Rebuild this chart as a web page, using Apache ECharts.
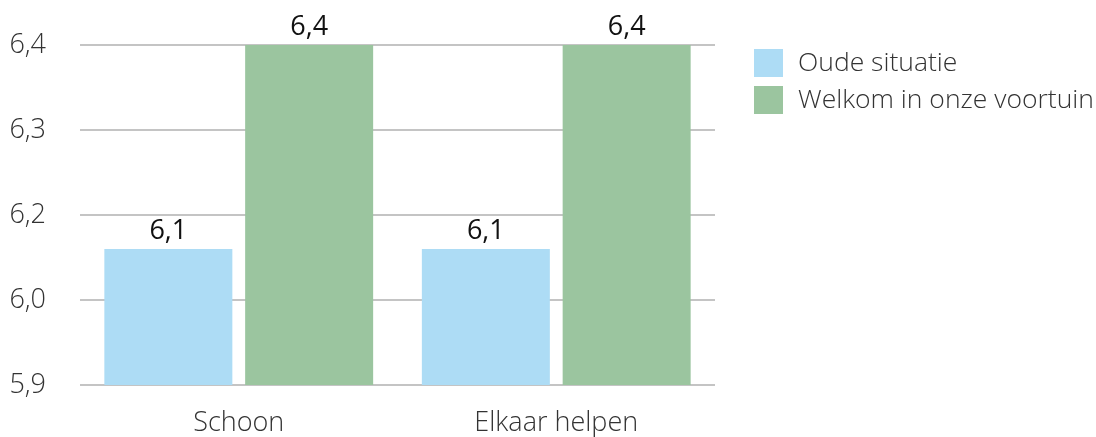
<!DOCTYPE html>
<html>
<head>
<meta charset="utf-8">
<script src="https://cdn.jsdelivr.net/npm/echarts@6/dist/echarts.min.js"></script>
<style>html,body{margin:0;padding:0;background:#fff}#c{width:1096px;height:437px}</style>
</head>
<body>
<div id="c"></div>
<script>
const categories = ["Schoon", "Elkaar helpen"];
const seriesNames = ["Oude situatie", "Welkom in onze voortuin"];
const oudeSituatie = [6.1, 6.1];
const welkom = [6.4, 6.4];
const yTickLabels = ["5,9", "6,0", "6,2", "6,3", "6,4"];
const colors = ["#addcf5", "#9bc59f"];

const chart = echarts.init(document.getElementById('c'));
const labelStyle = {
  show: true, position: 'top', distance: 4,
  fontFamily: 'Open Sans', fontSize: 27, color: '#111',
  formatter: p => p.value.toFixed(1).replace('.', ',')
};
chart.setOption({
  animation: false,
  color: colors,
  textStyle: { fontFamily: 'Open Sans' },
  legend: {
    orient: 'vertical', left: 749, top: 44,
    itemWidth: 29, itemHeight: 28, itemGap: 9,
    icon: 'rect',
    textStyle: { fontFamily: 'Open Sans', fontWeight: 300, fontSize: 26.5, lineHeight: 28, color: '#333', padding: [0, 0, 0, 10] },
    data: seriesNames
  },
  grid: { left: 80, right: 381, top: 45, bottom: 52, containLabel: false },
  xAxis: {
    type: 'category', data: categories,
    axisLine: { show: false },
    axisTick: { show: false },
    axisLabel: { fontFamily: 'Open Sans', fontWeight: 300, fontSize: 27, color: '#333', margin: 25 }
  },
  yAxis: {
    type: 'value', min: 5.9, max: 6.4, interval: 0.125,
    axisLine: { show: false }, axisTick: { show: false },
    splitLine: { lineStyle: { color: '#c4c4c4', width: 2 } },
    axisLabel: {
      fontFamily: 'Open Sans', fontWeight: 300, fontSize: 27, color: '#333', margin: 34,
      formatter: (v, i) => yTickLabels[i]
    }
  },
  series: [
    { name: seriesNames[0], type: 'bar', data: oudeSituatie, barWidth: 128, barGap: '10%', label: labelStyle },
    { name: seriesNames[1], type: 'bar', data: welkom, barWidth: 128, barGap: '10%', label: labelStyle }
  ]
});
</script>
</body>
</html>
